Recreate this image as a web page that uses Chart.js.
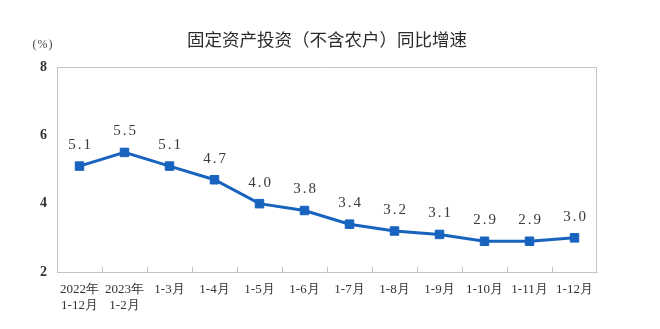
<!DOCTYPE html>
<html>
<head>
<meta charset="utf-8">
<script src="https://cdn.jsdelivr.net/npm/chart.js@4"></script>
<style>
  html, body { margin: 0; padding: 0; background: #fff; }
  #wrap { width: 660px; height: 329px; }
</style>
</head>
<body>
<div id="wrap"><canvas id="myChart"></canvas></div>
<script>
// 固定资产投资（不含农户）同比增速
var titleText = '固定资产投资（不含农户）同比增速';
var unitText = '(%)';
var categories = [
    ['2022年', '1-12月'], ['2023年', '1-2月'], '1-3月', '1-4月', '1-5月', '1-6月',
    '1-7月', '1-8月', '1-9月', '1-10月', '1-11月', '1-12月'
];
var growth = [5.1, 5.5, 5.1, 4.7, 4.0, 3.8, 3.4, 3.2, 3.1, 2.9, 2.9, 3.0];
var yTicks = [2, 4, 6, 8];

var lineColor = '#1763be';
var frameColor = '#c4c4c4';
var serif = '"Liberation Serif", "DejaVu Serif", serif';

// title, unit, frame, inner tick marks and value labels
var decorations = {
    id: 'decorations',
    afterDraw: function (chart) {
        var ctx = chart.ctx;
        var area = chart.chartArea;
        var x = chart.scales.x;
        ctx.save();

        ctx.fillStyle = '#2b2b2b';
        ctx.font = '17.5px "Noto Sans CJK SC", sans-serif';
        ctx.textAlign = 'center';
        ctx.textBaseline = 'middle';
        ctx.fillText(titleText, 327, 39);

        ctx.fillStyle = '#444';
        ctx.font = '12px ' + serif;
        ctx.letterSpacing = '1px';
        ctx.fillText(unitText, 43, 45);

        // top and right edges of the frame
        ctx.strokeStyle = frameColor;
        ctx.lineWidth = 1;
        ctx.beginPath();
        ctx.moveTo(area.left, area.top + 0.5);
        ctx.lineTo(area.right - 0.5, area.top + 0.5);
        ctx.lineTo(area.right - 0.5, area.bottom);
        ctx.stroke();

        // short ticks between categories, pointing up
        ctx.beginPath();
        for (var i = 1; i < categories.length; i++) {
            var bx = Math.round((x.getPixelForValue(i - 1) + x.getPixelForValue(i)) / 2) + 0.5;
            ctx.moveTo(bx, area.bottom);
            ctx.lineTo(bx, area.bottom - 5);
        }
        ctx.stroke();

        // value labels above each point
        var meta = chart.getDatasetMeta(0);
        ctx.fillStyle = '#3a3a3a';
        ctx.font = '15px ' + serif;
        ctx.letterSpacing = '2px';
        ctx.textAlign = 'center';
        ctx.textBaseline = 'middle';
        meta.data.forEach(function (pt, i) {
            ctx.fillText(growth[i].toFixed(1), pt.x + 1, pt.y - 21);
        });
        ctx.restore();
    }
};

var ctx = document.getElementById('myChart').getContext('2d');
var myChart = new Chart(ctx, {
    type: 'line',
    data: {
        labels: categories,
        datasets: [{
            label: '同比增速',
            data: growth,
            borderColor: lineColor,
            backgroundColor: lineColor,
            borderWidth: 3,
            pointStyle: 'rect',
            pointRadius: 6,
            pointBorderWidth: 1,
            pointHoverRadius: 6,
            tension: 0
        }]
    },
    options: {
        responsive: true,
        maintainAspectRatio: false,
        animation: false,
        layout: { padding: { top: 67, right: 63, left: 0, bottom: 0 } },
        plugins: {
            legend: { display: false },
            tooltip: { enabled: false }
        },
        scales: {
            x: {
                offset: true,
                grid: { display: false, drawTicks: false },
                border: { display: true, color: frameColor, width: 1 },
                ticks: {
                    autoSkip: false,
                    maxRotation: 0,
                    color: '#333',
                    padding: 10,
                    font: { family: serif, size: 13 }
                },
                afterFit: function (scale) { scale.height = 57; }
            },
            y: {
                min: 2,
                max: 8,
                grid: { display: false, drawTicks: false },
                border: { display: true, color: frameColor, width: 1 },
                afterBuildTicks: function (scale) {
                    scale.ticks = yTicks.map(function (v) { return { value: v }; });
                },
                ticks: {
                    color: '#333',
                    padding: 10,
                    font: { family: serif, size: 14, weight: 'bold' }
                },
                afterFit: function (scale) { scale.width = 57; }
            }
        }
    },
    plugins: [decorations]
});
</script>
</body>
</html>
